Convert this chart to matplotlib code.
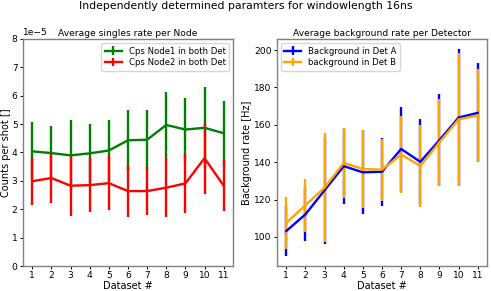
import matplotlib
matplotlib.use("Agg")
import matplotlib.pyplot as plt
import numpy as np

datasets = list(range(1, 12))
node1 = [4.04, 3.98, 3.90, 3.97, 4.07, 4.43, 4.45, 4.97, 4.81, 4.87, 4.68]
node1_err = [1.02, 0.94, 1.26, 1.05, 1.06, 1.07, 1.06, 1.15, 1.12, 1.43, 1.15]
node2 = [2.99, 3.10, 2.83, 2.85, 2.92, 2.64, 2.64, 2.76, 2.91, 3.80, 2.83]
node2_err = [0.85, 0.89, 1.06, 0.96, 0.95, 0.92, 0.84, 1.03, 1.04, 1.25, 0.90]

bgA = [103.2, 112.1, 125.0, 137.9, 134.6, 134.9, 147.1, 140.2, 151.8, 163.9, 166.4]
bgA_err = [13.2, 14.2, 28.5, 20.0, 22.5, 18.2, 22.5, 22.8, 24.6, 36.5, 26.5]
bgB = [107.5, 117.0, 126.4, 139.6, 136.4, 136.0, 144.1, 138.0, 150.7, 162.9, 165.0]
bgB_err = [13.8, 14.2, 29.0, 18.8, 20.8, 16.6, 20.5, 22.1, 23.2, 35.5, 25.0]

scale = 1e-5
fs = 6.6
plt.rcParams['font.size'] = fs

fig = plt.figure(figsize=(4.91, 2.91), dpi=100)
ax1 = fig.add_axes([0.0462, 0.0859, 0.4288, 0.7801])
ax2 = fig.add_axes([0.5635, 0.0859, 0.4290, 0.7801])

lw = 1.7
ax1.errorbar(datasets, np.array(node1) * scale, yerr=np.array(node1_err) * scale,
             color='green', lw=lw, elinewidth=lw, label='Cps Node1 in both Det')
ax1.errorbar(datasets, np.array(node2) * scale, yerr=np.array(node2_err) * scale,
             color='red', lw=lw, elinewidth=lw, label='Cps Node2 in both Det')
ax1.set_ylim(0, 8e-5)
ax1.set_xticks(datasets)
ax1.set_xlabel('Dataset #', fontsize=7, labelpad=0.5)
ax1.set_ylabel('Counts per shot []', fontsize=7, labelpad=0.5)
ax1.set_title('Average singles rate per Node', fontsize=6.6, pad=2.5)
ax1.legend(loc='upper right', fontsize=6.1, handlelength=2, borderpad=0.4, labelspacing=0.3)

ax2.errorbar(datasets, bgA, yerr=bgA_err, color='blue', lw=lw, elinewidth=lw,
             label='Background in Det A')
ax2.errorbar(datasets, bgB, yerr=bgB_err, color='orange', lw=lw, elinewidth=lw,
             label='background in Det B')
ax2.set_xticks(datasets)
ax2.set_xlabel('Dataset #', fontsize=7, labelpad=0.5)
ax2.set_ylabel('Background rate [Hz]', fontsize=7, labelpad=1.5)
ax2.set_title('Average background rate per Detector', fontsize=6.6, pad=2.5)
ax2.legend(loc='upper left', fontsize=6.1, handlelength=2, borderpad=0.4, labelspacing=0.3)

for ax in (ax1, ax2):
    ax.tick_params(labelsize=6.6, length=2.5, width=0.7, pad=1.2)
    for s in ax.spines.values():
        s.set_color('#808080')
        s.set_linewidth(1.0)
ax1.yaxis.get_offset_text().set_fontsize(6.6)

fig.suptitle('Independently determined paramters for windowlength 16ns', fontsize=7.8, y=0.995)
fig.savefig('out.png', dpi=100)
